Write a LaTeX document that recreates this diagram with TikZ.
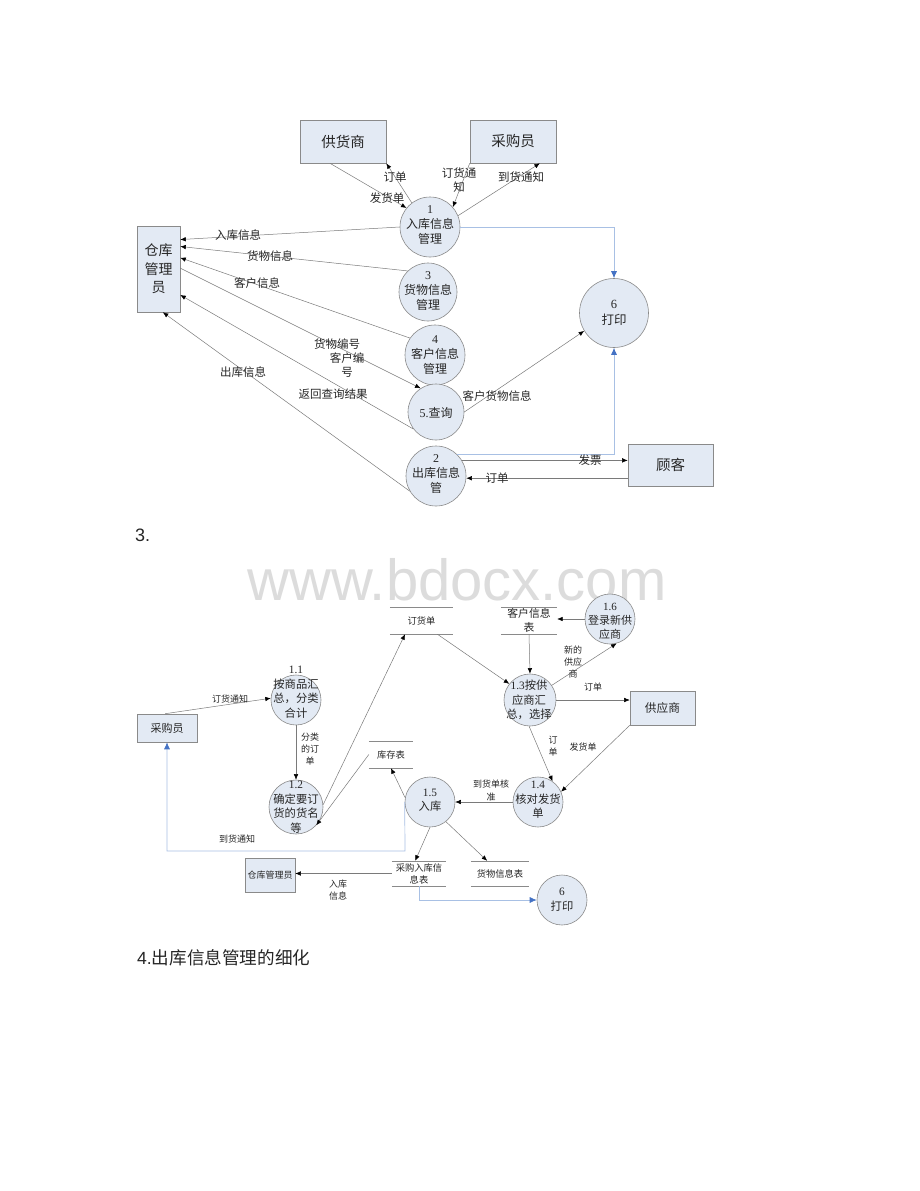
\documentclass[tikz,border=0pt]{standalone}
\usepackage{fontspec}
\setmainfont{Liberation Serif}
\newfontfamily\cjk{Noto Sans CJK SC}
\newfontfamily\arialf{Liberation Sans}
\usetikzlibrary{arrows.meta,calc}
\definecolor{nodefill}{HTML}{E3EAF4}
\definecolor{nodeline}{HTML}{8A8A8A}
\definecolor{conn}{HTML}{7A7A7A}
\definecolor{bluel}{HTML}{A8C0E4}
\definecolor{bluetip}{HTML}{4472C4}
\definecolor{txt}{HTML}{262626}
\definecolor{wm}{HTML}{DCDCDC}
\newcommand\nm[1]{{\rmfamily #1}}
\newcommand\ftBox{\cjk\fontsize{14.5}{18.5}\selectfont}
\newcommand\ftCirc{\cjk\fontsize{12}{15}\selectfont}
\newcommand\ftLab{\cjk\fontsize{11.5}{14}\selectfont}
\newcommand\ftCircS{\cjk\fontsize{11.3}{14.5}\selectfont}
\newcommand\ftLabS{\cjk\fontsize{9}{12}\selectfont}
\newcommand\ftStore{\cjk\fontsize{9.3}{12}\selectfont}
\newcommand\storelines[1]{\draw[nodeline,line width=0.6pt] (#1.north west)--(#1.north east) (#1.south west)--(#1.south east);}
\begin{document}
\begin{tikzpicture}[x=1pt,y=-1pt,
 proc/.style={circle,draw=nodeline,fill=nodefill,inner sep=0pt,line width=0.6pt},
 ptxt/.style={align=center,text=txt,inner sep=0pt},
 ent/.style={rectangle,draw=nodeline,fill=nodefill,inner sep=0pt,align=center,text=txt,line width=0.6pt},
 store/.style={rectangle,inner sep=0pt,align=center,text=txt,font=\ftStore},
 flow/.style={draw=conn,line width=0.5pt,-{Latex[length=5.5pt,width=4.5pt,color=black]}},
 bflow/.style={draw=bluel,line width=0.7pt,-{Latex[length=7pt,width=6pt,color=bluetip]}},
 lab/.style={text=txt,align=center,inner sep=0pt,font=\ftLab},
 labs/.style={text=txt,align=center,inner sep=0pt,font=\ftLabS}]
\path[use as bounding box, fill=white] (0,0) rectangle (920,1191);

% watermark and headings
\node[font=\arialf\fontsize{58}{60}\selectfont, text=wm, anchor=base, inner sep=0pt] (wmark) at (457,600) {www.bdocx.com};
\node[anchor=base west, inner sep=0pt, font=\arialf\fontsize{18}{20}\selectfont, text=txt] (h3) at (135,541) {3.};
\node[anchor=base west, inner sep=0pt, font=\fontsize{17.6}{20}\selectfont, text=txt] (h4) at (137,964) {{\arialf 4.}{\cjk 出库信息管理的细化}};

% ---------------- diagram 1 ----------------
\node[ent, minimum width=86, minimum height=43, font=\ftBox] (gh) at (343,141.5) {供货商};
\node[ent, minimum width=86, minimum height=43, font=\ftBox] (cgy) at (513,141.5) {采购员};
\node[ent, minimum width=43, minimum height=86, font=\cjk\fontsize{14}{18.5}\selectfont] (ck) at (158.5,269) {仓库\\管理\\员};
\node[ent, minimum width=85, minimum height=42, font=\ftBox] (gk) at (670.5,465) {顾客};

\node[proc, minimum size=60] (c1) at (430,227) {};
\node[ptxt, font=\ftCirc] (c1t) at (430,225) {\nm{1}\\入库信息\\管理};
\node[proc, minimum size=58] (c3) at (428,292) {};
\node[ptxt, font=\ftCirc] (c3t) at (428,291) {\nm{3}\\货物信息\\管理};
\node[proc, minimum size=60] (c4) at (435,355) {};
\node[ptxt, font=\ftCirc] (c4t) at (435,355) {\nm{4}\\客户信息\\管理};
\node[proc, minimum size=56] (c5) at (436,412) {};
\node[ptxt, font=\ftCirc] (c5t) at (436,413) {\nm{5.}查询};
\node[proc, minimum size=60] (c2) at (436,476) {};
\node[ptxt, font=\ftCirc] (c2t) at (436,474) {\nm{2}\\出库信息\\管};
\node[proc, minimum size=69] (c6) at (614,313) {};
\node[ptxt, font=\cjk\fontsize{12.5}{16}\selectfont] (c6t) at (614,313) {\nm{6}\\打印};

\draw[flow] (c1.127) -- (gh.south east);
\draw[flow] ($(gh.south west)!0.35!(gh.south east)$) -- (c1.141);
\draw[flow] (cgy.south west) -- (c1.41);
\draw[flow] (c1.22) -- ($(cgy.south west)!0.81!(cgy.south east)$);
\draw[flow] (c1.west) -- ($(ck.north east)!0.16!(ck.south east)$);
\draw[flow] (c3.134) -- ($(ck.north east)!0.24!(ck.south east)$);
\draw[flow] (c4.146) -- ($(ck.north east)!0.37!(ck.south east)$);
\draw[flow] ($(ck.north east)!0.49!(ck.south east)$) -- (c5.123);
\draw[flow] (c5.217) -- ($(ck.north east)!0.80!(ck.south east)$);
\draw[flow] (c2.210) -- ($(ck.south west)!0.6!(ck.south east)$);
\draw[flow] (c5.0) -- (c6.211);
\draw[bflow] (c1.east) -| (c6.north);
\draw[bflow] (c2.46) -| (c6.south);
\draw[flow] (c2.31) -- (c2.31 -| gk.west);
\coordinate (gko) at ($(gk.north west)!0.81!(gk.south west)$);
\draw[flow] (gko) -- (gko -| c2.east);

\node[lab] (l1a) at (395,177) {订单};
\node[lab] (l1b) at (387,198) {发货单};
\node[lab] (l1c) at (459,180) {订货通\\知};
\node[lab] (l1d) at (521,177) {到货通知};
\node[lab] (l1e) at (238,235) {入库信息};
\node[lab] (l1f) at (270,256) {货物信息};
\node[lab] (l1g) at (257,283) {客户信息};
\node[lab] (l1h) at (337,344) {货物编号};
\node[lab] (l1i) at (347,365) {客户编\\号};
\node[lab] (l1j) at (243,372) {出库信息};
\node[lab] (l1k) at (333,394) {返回查询结果};
\node[lab] (l1l) at (497,396) {客户货物信息};
\node[lab] (l1m) at (590,460) {发票};
\node[lab] (l1n) at (497,478) {订单};

% ---------------- diagram 2 ----------------
\node[ent, minimum width=60, minimum height=28, font=\cjk\fontsize{11}{13}\selectfont] (cg2) at (167,728) {采购员};
\node[ent, minimum width=65, minimum height=34, font=\cjk\fontsize{11.7}{14}\selectfont] (gys2) at (662.5,708) {供应商};
\node[ent, minimum width=50, minimum height=34, font=\cjk\fontsize{9}{11}\selectfont] (ck2) at (270,875) {仓库管理员};

\node[store, minimum width=63, minimum height=27] (dh) at (421.5,620.5) {订货单};
\storelines{dh}
\node[store, minimum width=56, minimum height=27, font=\cjk\fontsize{10.8}{13.5}\selectfont] (kh) at (529,620.5) {客户信息\\表};
\storelines{kh}
\node[store, minimum width=44, minimum height=27] (kc) at (391,754.5) {库存表};
\storelines{kc}
\node[store, minimum width=54, minimum height=25] (cg) at (419,873.5) {采购入库信\\息表};
\storelines{cg}
\node[store, minimum width=58, minimum height=25] (hw) at (500,873.5) {货物信息表};
\storelines{hw}

\node[proc, minimum size=50] (c11) at (296,700) {};
\node[ptxt, font=\ftCircS] (c11t) at (296,692) {\nm{1.1}\\按商品汇\\总，分类\\合计};
\node[proc, minimum size=54] (c12) at (296,807) {};
\node[ptxt, font=\ftCircS] (c12t) at (296,807) {\nm{1.2}\\确定要订\\货的货名\\等};
\node[proc, minimum size=52] (c13) at (530,700) {};
\node[ptxt, font=\ftCircS] (c13t) at (529,700) {\nm{1.3}按供\\应商汇\\总，选择};
\node[proc, minimum size=50] (c14) at (538,802) {};
\node[ptxt, font=\ftCircS] (c14t) at (538,800) {\nm{1.4}\\核对发货\\单};
\node[proc, minimum size=50] (c15) at (430,802) {};
\node[ptxt, font=\ftCircS] (c15t) at (430,800) {\nm{1.5}\\入库};
\node[proc, minimum size=50] (c16) at (610,619) {};
\node[ptxt, font=\cjk\fontsize{11}{14}\selectfont] (c16t) at (610,621) {\nm{1.6}\\登录新供\\应商};
\node[proc, minimum size=50] (c62) at (562,900) {};
\node[ptxt, font=\ftCircS] (c62t) at (562,899.5) {\nm{6}\\打印};

\draw[flow] ($(cg2.north west)!0.47!(cg2.north east)$) -- (c11.176);
\draw[flow] (c11.south) -- (c12.north);
\draw[flow] (c12.5) -- ($(dh.south west)!0.24!(dh.south east)$);
\draw[flow] (kc.west) -- (c12.318);
\draw[flow] ($(dh.south west)!0.75!(dh.south east)$) -- (c13.142);
\draw[flow] (kh.south) -- (c13.north);
\draw[flow] (c16.west) -- (c16.west -| kh.east);
\draw[flow] (c13.34) -- (c16.285);
\draw[flow] (c13.east) -- (c13.east -| gys2.west);
\draw[flow] (c13.268) -- (c14.55);
\draw[flow] (gys2.south west) -- (c14.24);
\draw[flow] (c14.west) -- (c15.east);
\draw[flow] (c15.170) -- (kc.south);
\draw[flow] (c15.south) -- ($(cg.north west)!0.43!(cg.north east)$);
\draw[flow] (c15.309) -- ($(hw.north west)!0.28!(hw.north east)$);
\coordinate (bend1) at (405,851);
\draw[bflow] (c15.west) -- (bend1) -| (cg2.south);
\draw[flow] (cg.west) -- (cg.west -| ck2.east);
\draw[bflow] (cg.south) |- (c62.west);

\node[labs] (l2a) at (230,699) {订货通知};
\node[labs] (l2b) at (310,749) {分类\\的订\\单};
\node[labs] (l2c) at (573,662) {新的\\供应\\商};
\node[labs] (l2d) at (593,687) {订单};
\node[labs] (l2e) at (553,746) {订\\单};
\node[labs] (l2f) at (583,747) {发货单};
\node[labs, font=\cjk\fontsize{9}{13}\selectfont] (l2g) at (491,790.5) {到货单核\\准};
\node[labs] (l2h) at (237,839) {到货通知};
\node[labs] (l2i) at (338,890) {入库\\信息};
\end{tikzpicture}
\end{document}
